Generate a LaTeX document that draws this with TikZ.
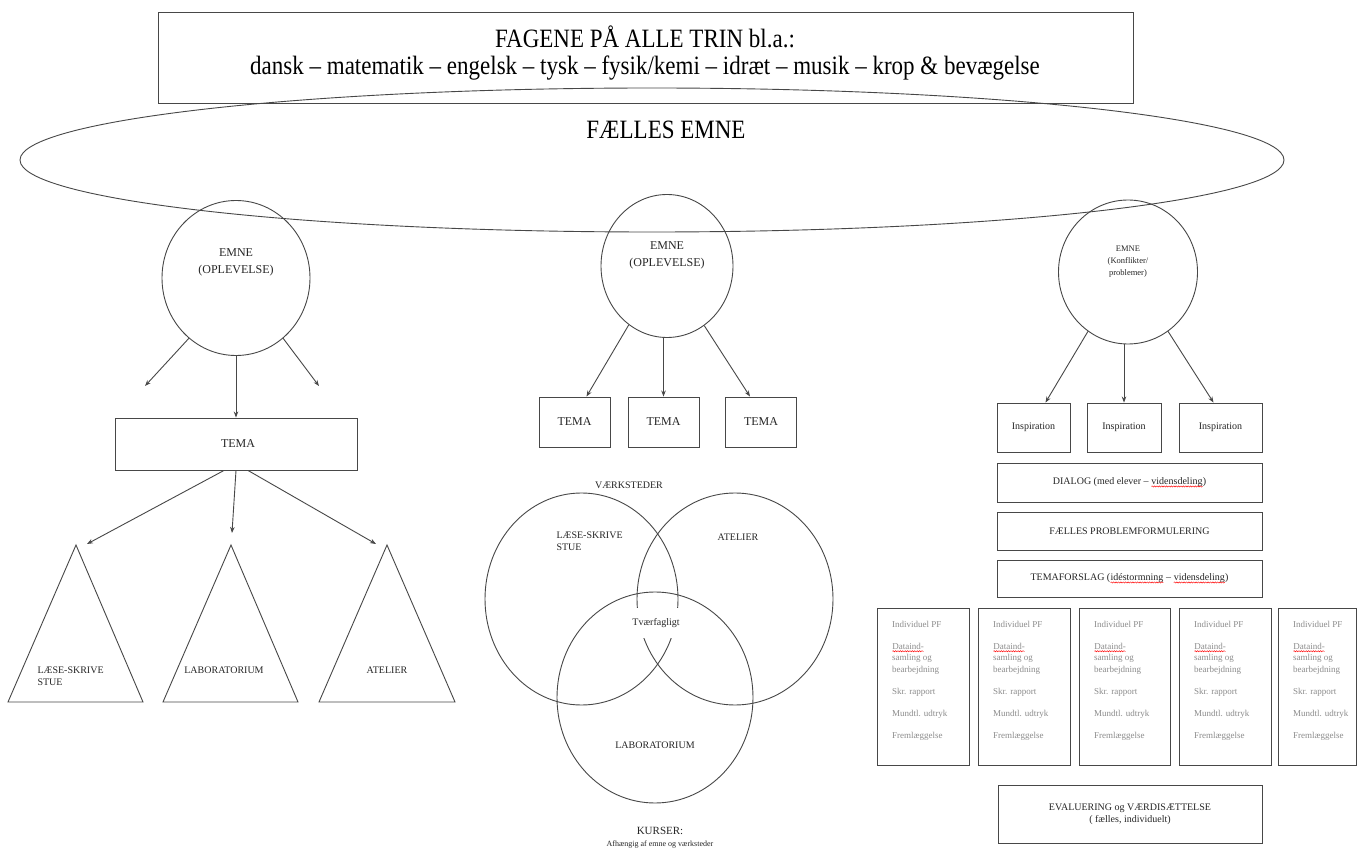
\documentclass[tikz,border=0pt]{standalone}
\usepackage{fontspec}
\setmainfont{Liberation Serif}
\usetikzlibrary{arrows.meta,shapes.geometric,decorations.pathmorphing}
\newcommand\redwave[1]{\tikz[baseline=(w.base)]{\node[inner sep=0pt, outer sep=0pt, anchor=base] (w) {#1};\draw[red, line width=0.45pt, decorate, decoration={snake, amplitude=0.6pt, segment length=2.4pt}] ([yshift=-1.8pt]w.base west) -- ([yshift=-1.8pt]w.base east);}}
\newcommand\tall[1]{\scalebox{1}[1.15]{#1}}
\begin{document}
\begin{tikzpicture}[x=1pt,y=-1pt,
  ln/.style={draw=black!72, line width=0.9pt},
  arr/.style={ln, -{Stealth[length=6pt,width=4.5pt]}},
  boxx/.style={ln, rectangle, inner sep=0pt},
  ring/.style={ln, ellipse, inner sep=0pt},
  big/.style={font=\fontsize{23}{27}\selectfont},
  mid/.style={font=\fontsize{12}{17}\selectfont, align=center, text=black!85},
  sml/.style={font=\fontsize{10}{12}\selectfont, align=center, text=black!85},
  tiny/.style={font=\fontsize{8.5}{12}\selectfont, align=center, text=black!85},
  grey/.style={font=\fontsize{9}{11.5}\selectfont, align=left, text=black!45, anchor=north west, inner sep=0pt}
]
\useasboundingbox (0,0) rectangle (1363,858);
\fill[white] (0,0) rectangle (1363,858);

% top
\node[boxx, minimum width=975, minimum height=91] (fag) at (645.5,57.5) {};
\node[big] (fagt1) at (645,37) {\tall{FAGENE PÅ ALLE TRIN bl.a.:}};
\node[big] (fagt2) at (645,68) {\tall{dansk – matematik – engelsk – tysk – fysik/kemi – idræt – musik – krop \& bevægelse}};
\node[ring, minimum width=1264, minimum height=144] (faelles) at (652,160) {};
\node[big] (faellest) at (666,130) {\tall{FÆLLES EMNE}};

% left column
\node[ring, minimum width=148, minimum height=155] (e1) at (236,278) {};
\node[mid] (e1t) at (236,262) {EMNE\\(OPLEVELSE)};
\coordinate (l1) at (145,386);
\coordinate (r1) at (319,386);
\draw[arr] (e1.232) -- (l1);
\draw[arr] (e1.308) -- (r1);
\node[boxx, minimum width=242, minimum height=52] (t1) at (236,444) {};
\node[mid] (t1t) at (238,444) {TEMA};
\draw[arr] (e1.south) -- (t1.north);
\coordinate (tl) at (87,544);
\coordinate (tm) at (232,533);
\coordinate (tr) at (376,544);
\draw[arr] ([xshift=-12pt]t1.south) -- (tl);
\draw[arr] (t1.south) -- (tm);
\draw[arr] ([xshift=12pt]t1.south) -- (tr);
\draw[ln] (76,545) coordinate (a1) -- (143,702) -- (8,702) -- cycle;
\draw[ln] (231,545) coordinate (a2) -- (298,702) -- (163,702) -- cycle;
\draw[ln] (387,545) coordinate (a3) -- (455,702) -- (319,702) -- cycle;
\node[sml, align=left, anchor=west] (tri1) at (34,676) {LÆSE-SKRIVE\\STUE};
\node[sml] (tri2) at (224,670) {LABORATORIUM};
\node[sml] (tri3) at (387,670) {ATELIER};

% middle column
\node[ring, minimum width=132, minimum height=143] (e2) at (667,266) {};
\node[mid] (e2t) at (667,255) {EMNE\\(OPLEVELSE)};
\node[boxx, minimum width=71, minimum height=50] (b1) at (574.5,422) {};
\node[boxx, minimum width=71, minimum height=50] (b2) at (663.5,422) {};
\node[boxx, minimum width=71, minimum height=50] (b3) at (761,422) {};
\node[mid] at (b1) {TEMA};
\node[mid] at (b2) {TEMA};
\node[mid] at (b3) {TEMA};
\draw[arr] (e2.237) -- ([xshift=12pt]b1.north);
\draw[arr] (b2.north |- e2.south) -- (b2.north);
\draw[arr] (e2.302) -- ([xshift=-11pt]b3.north);
\node[sml] (vaerk) at (629,485) {VÆRKSTEDER};
\node[ring, minimum width=193, minimum height=212] (v1) at (581.5,599) {};
\node[ring, minimum width=196, minimum height=212] (v2) at (735,599) {};
\node[ring, minimum width=196, minimum height=211] (v3) at (655,697.5) {};
\node[sml, fill=white, minimum width=52, minimum height=30, inner sep=0pt] (tvf) at (656,623) {Tværfagligt};
\node[sml, align=left, anchor=north west] (v1t) at (553,528) {LÆSE-SKRIVE\\STUE};
\node[sml] (v2t) at (738,537) {ATELIER};
\node[sml] (v3t) at (655,745) {LABORATORIUM};
\node[sml] (kurs) at (660,838) {{\fontsize{11}{12}\selectfont KURSER:}\\{\fontsize{8}{9}\selectfont Afhængig af emne og værksteder}};

% right column
\node[ring, minimum width=139, minimum height=144] (e3) at (1128,272) {};
\node[tiny] (e3t) at (1128,262) {EMNE\\(Konflikter/\\problemer)};
\node[boxx, minimum width=73, minimum height=49] (i1) at (1033.5,427.5) {};
\node[boxx, minimum width=74, minimum height=49] (i2) at (1124,427.5) {};
\node[boxx, minimum width=83, minimum height=49] (i3) at (1220.5,427.5) {};
\node[sml] at (i1) {Inspiration};
\node[sml] at (i2) {Inspiration};
\node[sml] at (i3) {Inspiration};
\draw[arr] (e3.236) -- ([xshift=12pt]i1.north);
\draw[arr] (i2.north |- e3.south) -- (i2.north);
\draw[arr] (e3.304) -- ([xshift=-7pt]i3.north);
\node[boxx, minimum width=265, minimum height=39] (dia) at (1129.5,482.5) {};
\node[sml] at (dia) {DIALOG (med elever – \redwave{vidensdeling})};
\node[boxx, minimum width=265, minimum height=38] (fpf) at (1129.5,531) {};
\node[sml] at (fpf) {FÆLLES PROBLEMFORMULERING};
\node[boxx, minimum width=265, minimum height=37] (tfs) at (1129.5,578.5) {};
\node[sml] at (tfs) {TEMAFORSLAG (\redwave{idéstormning} – \redwave{vidensdeling})};
\foreach \i/\x/\w in {1/877/92, 2/978/92, 3/1079/91, 4/1179/92, 5/1278/78} {
  \node[boxx, minimum width=\w, minimum height=157] (p\i) at (\x+\w/2,686.5) {};
  \node[grey] (pt\i) at (\x+15,621) {Individuel PF\\[10.5pt]\redwave{Dataind-}\\samling og\\bearbejdning\\[10.5pt]Skr. rapport\\[10.5pt]Mundtl. udtryk\\[10.5pt]Fremlæggelse};
}
\node[boxx, minimum width=264, minimum height=58] (ev) at (1130,814) {};
\node[sml] at (ev) {EVALUERING og VÆRDISÆTTELSE\\( fælles, individuelt)};
\end{tikzpicture}
\end{document}
